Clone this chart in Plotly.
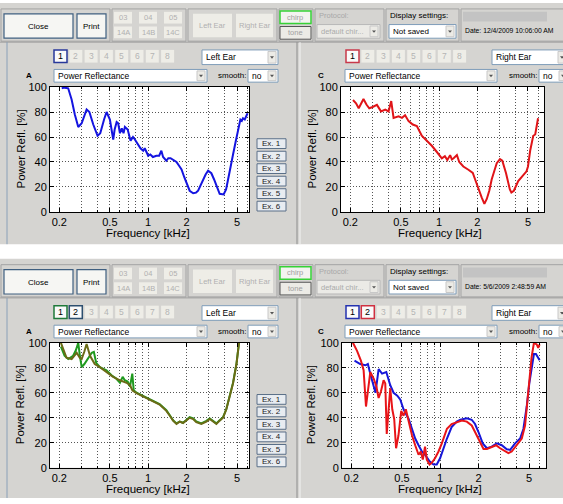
import plotly.graph_objects as go

# ---------------- data ----------------
f_tl = [0.209, 0.22, 0.235, 0.25, 0.265, 0.282, 0.30, 0.328, 0.345, 0.37,
        0.40, 0.42, 0.45, 0.471, 0.50, 0.531, 0.545, 0.565, 0.581, 0.60,
        0.62, 0.64, 0.656, 0.69, 0.727, 0.76, 0.786, 0.835, 0.87, 0.914,
        0.94, 0.97, 1.0, 1.04, 1.09, 1.16, 1.22, 1.27, 1.31, 1.39,
        1.44, 1.50, 1.57, 1.67, 1.75, 1.83, 1.92, 2.0, 2.12, 2.26,
        2.38, 2.47, 2.58, 2.70, 2.83, 2.96, 3.14, 3.3, 3.44, 3.65,
        3.92, 4.1, 4.25, 4.45, 4.65, 4.87, 5.09, 5.2, 5.31, 5.45,
        5.57, 5.75, 5.92, 6.05]
r_tl = [99, 99.5, 99, 90, 78, 68, 71, 82, 80, 70,
        61, 63, 74, 80, 74, 58, 66, 72, 71, 63,
        67, 63, 68, 66, 57, 60, 58, 54, 51, 49,
        51, 48, 45, 46, 44, 45, 45, 49, 44, 41,
        43, 43, 42, 40, 37, 34, 28, 23, 17, 15,
        15.5, 17, 21, 26, 30, 33, 31, 26, 21, 14.5,
        14, 18, 26, 35, 46, 56, 66, 71, 74, 73,
        75, 74, 77, 79]

f_tr = [0.21, 0.222, 0.233, 0.245, 0.254, 0.268, 0.282, 0.30, 0.324, 0.349,
        0.377, 0.40, 0.42, 0.438, 0.46, 0.48, 0.51, 0.54, 0.575, 0.62,
        0.668, 0.73, 0.80, 0.876, 0.96, 1.05, 1.11, 1.16, 1.22, 1.26,
        1.30, 1.34, 1.38, 1.44, 1.55, 1.70, 1.84, 1.92, 2.04, 2.16,
        2.27, 2.37, 2.48, 2.59, 2.72, 2.84, 3.01, 3.14, 3.36, 3.6,
        3.7, 3.87, 4.19, 4.59, 4.87, 5.0, 5.2, 5.5, 5.7, 6.0]
r_tr = [89.6, 87, 83, 87, 90.4, 86, 83, 84, 85.7, 80.5,
        82, 80.5, 88.8, 75.3, 76, 76.6, 75.3, 77.4, 72.7, 70,
        68.8, 61, 57, 53, 48, 42.9, 44.7, 41.6, 45.5, 42,
        43, 44, 45.5, 40, 36.4, 33.8, 31.2, 26, 18, 11.7,
        6.5, 10.4, 17, 26, 33, 39, 42.3, 41, 31, 18,
        15.6, 17, 24.7, 30, 32.5, 36.4, 49, 61, 62, 75]

f_bl_green = [0.206, 0.22, 0.235, 0.257, 0.27, 0.282, 0.29, 0.30, 0.315, 0.328,
              0.345, 0.36, 0.374, 0.39, 0.417, 0.47, 0.515, 0.56, 0.6, 0.63,
              0.655, 0.69, 0.72, 0.74, 0.75, 0.77, 0.81, 0.886, 0.97, 1.06,
              1.16, 1.23, 1.31, 1.39, 1.48, 1.57, 1.67, 1.77, 1.88, 2.0,
              2.12, 2.26, 2.39, 2.62, 2.87, 3.05, 3.23, 3.44, 3.65, 3.88,
              4.12, 4.37, 4.65, 4.95, 5.18]
r_bl_green = [97, 89.6, 87, 89.6, 94, 100, 90, 80.5, 83, 85.7,
              89, 92, 92.7, 84, 80.5, 78, 74, 71.4, 68, 72.7,
              70, 69, 65, 73, 75.3, 62, 60, 58, 56, 54.5,
              52.5, 51, 48.5, 46, 42, 38, 35.5, 37, 36, 38,
              40.5, 39.5, 37, 35.5, 37.5, 39.5, 37.5, 35.5, 38, 40.5,
              47, 57.5, 68, 83.5, 100]

f_bl_olive = [0.206, 0.215, 0.228, 0.25, 0.274, 0.29, 0.30, 0.315, 0.328, 0.349,
              0.38, 0.417, 0.47, 0.53, 0.6, 0.676, 0.72, 0.753, 0.81, 0.886,
              0.97, 1.06, 1.16, 1.23, 1.31, 1.39, 1.48, 1.57, 1.67, 1.77,
              1.88, 2.0, 2.12, 2.26, 2.39, 2.62, 2.87, 3.05, 3.23, 3.44,
              3.65, 3.88, 4.12, 4.37, 4.65, 4.95, 5.18]
r_bl_olive = [100, 95, 88, 87, 92, 88, 87, 93, 99, 89.6,
              83, 80.5, 76.6, 72.7, 70, 68, 66, 61.8, 59.7, 57.7,
              55.8, 54, 52, 50.6, 48, 45.5, 41.6, 37.7, 35, 36.9,
              35.8, 37.7, 40, 39, 36.4, 35, 36.9, 39, 36.9, 35,
              37.7, 40, 46.8, 57, 67.5, 83, 100]

f_br_blue = [0.212, 0.235, 0.258, 0.27, 0.282, 0.30, 0.31, 0.328, 0.349, 0.377,
             0.405, 0.43, 0.46, 0.486, 0.515, 0.565, 0.6, 0.636, 0.676, 0.718,
             0.76, 0.825, 0.886, 0.94, 1.0, 1.06, 1.13, 1.23, 1.35, 1.44,
             1.62, 1.77, 1.88, 2.0, 2.16, 2.33, 2.54, 2.79, 3.05, 3.34,
             3.55, 3.88, 4.25, 4.51, 4.79, 5.02, 5.23, 5.46, 5.66, 5.9, 6.05]
r_br_blue = [85.7, 83, 82, 83, 75.3, 65, 60, 79, 75.3, 76.6,
             66, 60, 57.7, 54.5, 46.8, 39, 31, 23.4, 18, 13,
             10.4, 5.2, 2.6, 2.6, 7.8, 15.6, 23.4, 32.5, 36.9, 38.4,
             39.5, 38.4, 35, 28.6, 19.5, 15.6, 16.9, 19.5, 18, 14.8,
             14.3, 19.5, 23.4, 31, 49, 67.5, 80.5, 91, 91, 88.3, 86]

f_br_red = [0.206, 0.222, 0.238, 0.25, 0.261, 0.27, 0.282, 0.30, 0.315, 0.328,
            0.342, 0.359, 0.37, 0.38, 0.395, 0.405, 0.42, 0.435, 0.45, 0.47,
            0.494, 0.515, 0.537, 0.565, 0.6, 0.636, 0.676, 0.705, 0.73, 0.76,
            0.785, 0.825, 0.86, 0.913, 0.97, 1.03, 1.13, 1.23, 1.35, 1.48,
            1.62, 1.77, 1.88, 2.04, 2.19, 2.33, 2.54, 2.75, 2.96, 3.24,
            3.44, 3.65, 4.0, 4.38, 4.65, 4.85, 5.02, 5.23, 5.46, 5.74, 5.9, 6.05]
r_br_red = [100, 93.5, 85.7, 78, 49, 62, 76.6, 71.4, 65, 55.8,
            61, 70, 67.5, 27, 49, 63.6, 46.8, 39, 15.6, 26,
            45.5, 41.6, 46.8, 36.4, 26, 18, 10.4, 13, 6.5, 16.9,
            6.5, 2.6, 3.9, 7.8, 13, 19.5, 31.2, 35, 36.4, 37.7,
            36.9, 33.8, 28.6, 20.8, 15, 15, 16.9, 18, 15.6, 13,
            11.7, 13, 18, 23.4, 33.8, 51.9, 71.4, 88.3, 100, 98.7, 96, 98.7]

x_major = [0.2, 0.5, 1, 2, 5]
x_major_text = ["0.2", "0.5", "1", "2", "5"]
x_minor = [0.3, 0.4, 0.6, 0.7, 0.8, 0.9, 3, 4, 6]
y_ticks = [0, 20, 40, 60, 80, 100]
tabs = ["1", "2", "3", "4", "5", "6", "7", "8"]
ex_labels = ["Ex. 1", "Ex. 2", "Ex. 3", "Ex. 4", "Ex. 5", "Ex. 6"]
dates = ["Date: 12/4/2009 10:06:00 AM", "Date: 5/6/2009 2:48:59 AM"]

# ---------------- helpers ----------------
W, H = 563, 504
F = "Liberation Sans"
BG = "#d5d4d1"
shapes, annots = [], []


def px(x):
    return x / W


def py(y):
    return 1 - y / H


def rect(x0, y0, x1, y1, fill=None, line=None, lw=1):
    shapes.append(dict(type="rect", xref="paper", yref="paper",
                       x0=px(x0), x1=px(x1), y0=py(y1), y1=py(y0),
                       fillcolor=fill or "rgba(0,0,0,0)",
                       line=dict(color=line or "rgba(0,0,0,0)", width=lw if line else 0),
                       layer="below"))


def hline(x0, x1, y, color="#a0a0a0", lw=1):
    shapes.append(dict(type="line", xref="paper", yref="paper", x0=px(x0), x1=px(x1),
                       y0=py(y), y1=py(y), line=dict(color=color, width=lw), layer="below"))


def vline(x, y0, y1, color="#a0a0a0", lw=1):
    shapes.append(dict(type="line", xref="paper", yref="paper", x0=px(x), x1=px(x),
                       y0=py(y0), y1=py(y1), line=dict(color=color, width=lw), layer="below"))


def text(x, y, s, size=8, color="#000", xanchor="left", angle=0):
    annots.append(dict(xref="paper", yref="paper", x=px(x), y=py(y), text=s,
                       showarrow=False, xanchor=xanchor, yanchor="middle",
                       textangle=angle, borderpad=0,
                       font=dict(size=size, color=color, family=F)))


def arrow_btn(x0, y0, x1, y1):
    rect(x0, y0, x1, y1, fill="#ecebe6", line="#c8c8c8")
    cx, cy = (x0 + x1) / 2, (y0 + y1) / 2
    shapes.append(dict(type="path", xref="paper", yref="paper",
                       path=f"M {px(cx-2)},{py(cy-1)} L {px(cx+2)},{py(cy-1)} L {px(cx)},{py(cy+1.5)} Z",
                       fillcolor="#555", line=dict(width=0), layer="below"))


def dropdown(x0, y0, x1, y1, s, fill="white", tcolor="#000", border="#7f9db9", size=8.5):
    rect(x0, y0, x1, y1, fill=fill, line=border)
    arrow_btn(x1 - 10, y0 + 1.5, x1 - 2, y1 - 1.5)
    text(x0 + 3, (y0 + y1) / 2, s, size=size, color=tcolor)


def screen(oy, y_end, date, left_tabs, right_tabs):
    rect(0, oy - 3, W, y_end, fill=BG)
    for gx0, gx1 in [(1, 110), (112, 186), (188, 277), (279, 313), (315, 384), (386, 459), (461, 566)]:
        rect(gx0, oy + 3, gx1, oy + 36, line="#a3a3a3")
    rect(4, oy + 8, 73, oy + 33, fill="#f6f6f3", line="#3f5f80", lw=1.2)
    text(38.5, oy + 21, "Close", size=8, xanchor="center")
    rect(77, oy + 8, 106, oy + 33, fill="#f6f6f3", line="#3f5f80", lw=1.2)
    text(91.5, oy + 21, "Print", size=8, xanchor="center")
    for i, (a, b) in enumerate([("03", "14A"), ("04", "14B"), ("05", "14C")]):
        x0 = 114 + i * 25
        rect(x0, oy + 6, x0 + 18, oy + 18, fill="#eeede7")
        text(x0 + 9, oy + 12, a, size=7.5, color="#b0b0b0", xanchor="center")
        rect(x0, oy + 21, x0 + 18, oy + 33, fill="#eeede7")
        text(x0 + 9, oy + 27, b, size=7.5, color="#b0b0b0", xanchor="center")
    rect(193, oy + 8, 232, oy + 32, fill="#eeede7")
    text(212.5, oy + 20, "Left Ear", size=7.5, color="#b0b0b0", xanchor="center")
    rect(236, oy + 8, 273, oy + 32, fill="#eeede7")
    text(254.5, oy + 20, "Right Ear", size=7.5, color="#b0b0b0", xanchor="center")
    rect(280, oy + 5, 311, oy + 18, fill="#f3f3f0", line="#36d236", lw=1.5)
    text(295.5, oy + 11.5, "chirp", size=7.5, color="#a0a0a0", xanchor="center")
    rect(280, oy + 21, 311, oy + 34, fill="#ecebe6", line="#555", lw=1)
    text(295.5, oy + 27.5, "tone", size=7.5, color="#a0a0a0", xanchor="center")
    text(318, oy + 10, "Protocol:", size=7.5, color="#a8a8a8")
    dropdown(317, oy + 19, 380, oy + 33, "default chir...", fill="#ebeae6", tcolor="#aaaaaa", border="#b8b8b8", size=7.5)
    text(389, oy + 10, "Display settings:", size=8)
    dropdown(389, oy + 19, 456, oy + 33, "Not saved", size=8)
    rect(463, oy + 6, 547, oy + 16, fill="#c3c3c3")
    text(464, oy + 25, date, size=6.8)
    hline(0, W, oy + 37, color="#9c9c9c")
    vline(7, oy + 37, y_end, color="#8aa0b8")
    vline(297, oy + 37, y_end, color="#8c8c8c")
    vline(300, oy + 37, y_end, color="#f4f4f4")
    for base, act in [(54, left_tabs), (346, right_tabs)]:
        for i, t in enumerate(tabs):
            x0 = base + i * 15.3
            if t in act:
                rect(x0, oy + 45, x0 + 13, oy + 58, fill="#fafafa", line=act[t], lw=1.5)
                text(x0 + 6.5, oy + 51.5, t, size=9, color="#000", xanchor="center")
            else:
                rect(x0, oy + 45, x0 + 13, oy + 58, fill="#eeede7")
                text(x0 + 6.5, oy + 51.5, t, size=8.5, color="#b4b4b4", xanchor="center")
    dropdown(202, oy + 45, 278, oy + 60, "Left Ear")
    dropdown(492, oy + 45, 568, oy + 60, "Right Ear")
    text(25, oy + 71, "<b>A</b>", size=8)
    text(317, oy + 71, "<b>C</b>", size=8)
    dropdown(54, oy + 65, 207, oy + 78, "Power Reflectance")
    dropdown(345, oy + 65, 497, oy + 78, "Power Reflectance")
    text(247, oy + 71.5, "smooth:", size=8, xanchor="right")
    dropdown(248, oy + 65, 278, oy + 78, "no")
    text(538, oy + 71.5, "smooth:", size=8, xanchor="right")
    dropdown(539, oy + 65, 569, oy + 78, "no")
    for i, e in enumerate(ex_labels):
        cy = oy + 141 + i * 12.8
        rect(257, cy - 5, 286, cy + 5, fill="#e8ecf1", line="#5a6f88", lw=1)
        text(271.5, cy, e, size=8, color="#222", xanchor="center")
    text(20, oy + 147, "Power Refl. [%]", size=11.5, xanchor="center", angle=-90)
    text(311, oy + 147, "Power Refl. [%]", size=11.5, xanchor="center", angle=-90)
    text(148, oy + 233, "Frequency [kHz]", size=11.5, xanchor="center")
    text(440, oy + 233, "Frequency [kHz]", size=11.5, xanchor="center")


screen(0, 244, dates[0], {"1": "#28389a"}, {"1": "#c8384a"})
screen(262, 504, dates[1], {"1": "#1f7a3a", "2": "#2d4f6f"}, {"1": "#2432b0", "2": "#d03040"})

PLOTS = {
    "1": dict(x=(50, 249), y=(83, 211), r=[-0.772, 0.793]),
    "2": dict(x=(341, 544), y=(83, 211), r=[-0.772, 0.825]),
    "3": dict(x=(50, 249), y=(345, 473), r=[-0.772, 0.793]),
    "4": dict(x=(342, 546), y=(345, 473), r=[-0.772, 0.832]),
}
for k, p in PLOTS.items():
    rect(p["x"][0], p["y"][0], p["x"][1], p["y"][1], fill="white")

fig = go.Figure()
series = [
    ("1", f_tl, r_tl, "#1414e0"),
    ("2", f_tr, r_tr, "#e01418"),
    ("3", f_bl_green, r_bl_green, "#1f9a1f"),
    ("3", f_bl_olive, r_bl_olive, "#6b6b16"),
    ("4", f_br_blue, r_br_blue, "#1616d8"),
    ("4", f_br_red, r_br_red, "#e81418"),
]
for k, fx, ry, c in series:
    sfx = "" if k == "1" else k
    fig.add_trace(go.Scatter(x=fx, y=ry, mode="lines", xaxis="x" + sfx, yaxis="y" + sfx,
                             line=dict(color=c, width=2), showlegend=False, hoverinfo="skip"))

layout = dict(width=W, height=H, margin=dict(l=0, r=0, t=0, b=0), autosize=False,
              paper_bgcolor="white", plot_bgcolor="white", showlegend=False,
              shapes=shapes, annotations=annots)
grid = dict(showgrid=True, gridcolor="#555555", griddash="1px,2px", gridwidth=1)
for k, p in PLOTS.items():
    sfx = "" if k == "1" else k
    xd = [px(p["x"][0]), px(p["x"][1])]
    yd = [py(p["y"][1]), py(p["y"][0])]
    layout["xaxis" + sfx] = dict(type="log", range=p["r"], domain=xd, anchor="y" + sfx,
                                 tickmode="array", tickvals=x_major, ticktext=x_major_text,
                                 ticks="inside", ticklen=4, tickcolor="black",
                                 showline=True, linecolor="black", linewidth=1, mirror="ticks",
                                 zeroline=False, fixedrange=True,
                                 tickfont=dict(size=11, family=F, color="black"),
                                 minor=dict(tickmode="array", tickvals=x_minor, ticks="inside",
                                            ticklen=2, tickcolor="black", **grid),
                                 **grid)
    layout["yaxis" + sfx] = dict(range=[0, 100], domain=yd, anchor="x" + sfx,
                                 tickmode="array", tickvals=y_ticks,
                                 ticks="inside", ticklen=4, tickcolor="black",
                                 showline=True, linecolor="black", linewidth=1, mirror="ticks",
                                 zeroline=False, fixedrange=True,
                                 tickfont=dict(size=11, family=F, color="black"),
                                 **grid)
fig.update_layout(**layout)
fig.write_html("out.html")
